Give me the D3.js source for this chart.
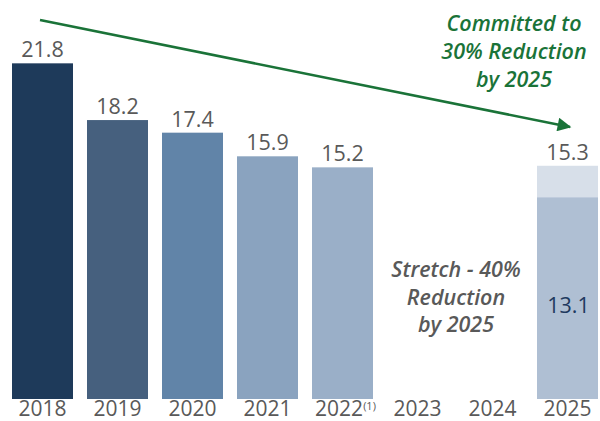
<!DOCTYPE html>
<html>
<head>
<meta charset="utf-8">
<script src="https://cdn.jsdelivr.net/npm/d3@7"></script>
<style>
  body { margin: 0; background: #fff; }
  text { font-family: "Open Sans", "Noto Sans", sans-serif; }
</style>
</head>
<body>
<div class="visHolder"></div>
<script>
// data
var years = ["2018", "2019", "2020", "2021", "2022", "2023", "2024", "2025"];
var actualYears = ["2018", "2019", "2020", "2021", "2022"];
var actualValues = [21.8, 18.2, 17.4, 15.9, 15.2];
var barColors = ["#1E3A5A", "#46607E", "#6184A8", "#8AA3BF", "#9AAFC8"];
var targetYear = "2025";
var committedTarget = 15.3;   // 30% reduction
var stretchTarget = 13.1;     // 40% reduction
var committedNote = ["Committed to", "30% Reduction", "by 2025"];
var stretchNote = ["Stretch - 40%", "Reduction", "by 2025"];

var width = 600, height = 421;

var svg = d3.select(".visHolder")
    .append("svg")
    .attr("width", width)
    .attr("height", height);

// scales
var x = d3.scaleBand()
    .domain(years)
    .range([12, 598])
    .paddingInner(0.1867)
    .paddingOuter(0);

var y = d3.scaleLinear()
    .domain([0.5, 22.5])
    .range([399, 52.3]);

// actual bars
svg.selectAll(".bar")
    .data(actualYears)
    .enter()
    .append("rect")
    .attr("class", "bar")
    .attr("x", (d) => x(d))
    .attr("y", (d, i) => y(actualValues[i]))
    .attr("width", x.bandwidth())
    .attr("height", (d, i) => y.range()[0] - y(actualValues[i]))
    .style("fill", (d, i) => barColors[i]);

svg.selectAll(".val")
    .data(actualYears)
    .enter()
    .append("text")
    .attr("class", "val")
    .attr("x", (d) => x(d) + x.bandwidth() / 2)
    .attr("y", (d, i) => y(actualValues[i]) - 6)
    .attr("text-anchor", "middle")
    .style("font-size", "21.5px")
    .style("fill", "#595959")
    .text((d, i) => actualValues[i].toFixed(1));

// 2025 target bar: committed (light) and stretch (darker)
svg.append("rect")
    .attr("x", x(targetYear))
    .attr("y", y(committedTarget))
    .attr("width", x.bandwidth())
    .attr("height", y.range()[0] - y(committedTarget))
    .style("fill", "#D7DFE9");

svg.append("rect")
    .attr("x", x(targetYear))
    .attr("y", y(stretchTarget) - 3)
    .attr("width", x.bandwidth())
    .attr("height", y.range()[0] - y(stretchTarget) + 3)
    .style("fill", "#AFBFD3");

svg.append("text")
    .attr("x", x(targetYear) + x.bandwidth() / 2)
    .attr("y", y(committedTarget) - 6)
    .attr("text-anchor", "middle")
    .style("font-size", "21.5px")
    .style("fill", "#595959")
    .text(committedTarget.toFixed(1));

svg.append("text")
    .attr("x", x(targetYear) + x.bandwidth() / 2 + 1)
    .attr("y", 313)
    .attr("text-anchor", "middle")
    .style("font-size", "21.5px")
    .style("font-weight", "500")
    .style("fill", "#1F3A5F")
    .text(stretchTarget.toFixed(1));

// x axis
var xAxis = svg.append("g")
    .attr("transform", "translate(0," + 399 + ")")
    .call(d3.axisBottom(x).tickSize(0).tickPadding(2));

xAxis.select(".domain").remove();
xAxis.selectAll("text")
    .style("font-family", "'Open Sans', sans-serif")
    .style("font-size", "21px")
    .style("fill", "#595959");

// footnote marker on 2022
xAxis.selectAll(".tick")
    .filter((d) => d === "2022")
    .select("text")
    .attr("x", 3)
    .append("tspan")
    .attr("dy", "-0.55em")
    .style("font-size", "11px")
    .text("(1)");

// green trend arrow
svg.append("defs").append("marker")
    .attr("id", "arrowhead")
    .attr("viewBox", "0 0 10 10")
    .attr("refX", 9)
    .attr("refY", 5)
    .attr("markerWidth", 7)
    .attr("markerHeight", 5.5)
    .attr("orient", "auto")
    .append("path")
    .attr("d", "M0,0 L10,5 L0,10 Z")
    .style("fill", "#1A7338");

svg.append("line")
    .attr("x1", 40)
    .attr("y1", 20)
    .attr("x2", 570)
    .attr("y2", 127)
    .style("stroke", "#1A7338")
    .style("stroke-width", 2.5)
    .attr("marker-end", "url(#arrowhead)");

// annotations
svg.append("text")
    .attr("text-anchor", "middle")
    .style("font-size", "21.5px")
    .style("font-style", "italic")
    .style("font-weight", "600")
    .style("fill", "#1A7338")
    .selectAll("tspan")
    .data(committedNote)
    .enter()
    .append("tspan")
    .attr("x", 514)
    .attr("y", (d, i) => 31 + i * 28)
    .text((d) => d);

svg.append("text")
    .attr("text-anchor", "middle")
    .style("font-size", "21.5px")
    .style("font-style", "italic")
    .style("font-weight", "600")
    .style("fill", "#595959")
    .selectAll("tspan")
    .data(stretchNote)
    .enter()
    .append("tspan")
    .attr("x", 456)
    .attr("y", (d, i) => 277 + i * 27.5)
    .text((d) => d);
</script>
</body>
</html>
